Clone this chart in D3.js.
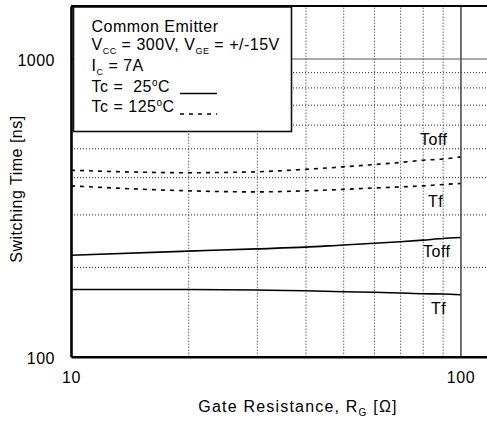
<!DOCTYPE html>
<html>
<head>
<meta charset="utf-8">
<script src="https://cdn.jsdelivr.net/npm/d3@7"></script>
<style>
  html, body { margin: 0; padding: 0; background: #fff; }
  svg { display: block; font-family: "Liberation Sans", Arial, sans-serif; }
  text { fill: #000; }
</style>
</head>
<body>
<svg id="chart" width="487" height="421"></svg>
<script>
// ---- data ----
const rg = [10, 20, 30, 40, 50, 60, 70, 80, 90, 100];
const toff25 = [219, 226, 230, 233, 237, 240, 243, 246, 249, 251];
const tf25 = [168, 168, 167.3, 166.4, 165.1, 164.4, 163.5, 162.6, 162.3, 161.4];
const toff125 = [422, 414, 417, 425, 433, 441, 448, 456, 460, 468];
const tf125 = [374, 360, 357, 360, 364, 368, 371, 374, 378, 381];
const xTickLabels = [10, 100];
const yTickLabels = [100, 1000];
const xMinor = [20, 30, 40, 50, 60, 70, 80, 90];
const yMinor = [200, 300, 400, 500, 600, 700, 800, 900];
const curveLabels = [
  { text: "Toff", x: 420, y: 145 },
  { text: "Tf", x: 428, y: 207 },
  { text: "Toff", x: 423, y: 257 },
  { text: "Tf", x: 431, y: 314 }
];

const svg = d3.select("#chart");
const L = 71, R = 487, T = 6, B = 356.7;
const x = d3.scaleLog().domain([10, 117]).range([L, R]);
const y = d3.scaleLog().domain([100, 1500]).range([B, T]);
const FS = 16, LS = "0.5px";

// grid: dotted minor
const gx = svg.append("g").attr("transform", `translate(0,${B})`)
  .call(d3.axisBottom(x).tickValues(xMinor).tickSize(-(B - T)).tickFormat(""));
gx.select(".domain").remove();
gx.selectAll("line").attr("stroke", "#222").attr("stroke-width", 1).attr("stroke-dasharray", "1,2");

const gy = svg.append("g").attr("transform", `translate(${L},0)`)
  .call(d3.axisLeft(y).tickValues(yMinor).tickSize(-(R - L)).tickFormat(""));
gy.select(".domain").remove();
gy.selectAll("line").attr("stroke", "#222").attr("stroke-width", 1).attr("stroke-dasharray", "1,2");

// major solid grid lines
const gxM = svg.append("g").attr("transform", `translate(0,${B})`)
  .call(d3.axisBottom(x).tickValues([100]).tickSize(-(B - T)).tickFormat(""));
gxM.select(".domain").remove();
gxM.selectAll("line").attr("stroke", "#444").attr("stroke-width", 1.5);

const gyM = svg.append("g").attr("transform", `translate(${L},0)`)
  .call(d3.axisLeft(y).tickValues([1000]).tickSize(-(R - L)).tickFormat(""));
gyM.select(".domain").remove();
gyM.selectAll("line").attr("stroke", "#555").attr("stroke-width", 1);

// curves
const line = d3.line().x(d => x(d[0])).y(d => y(d[1])).curve(d3.curveMonotoneX);
function draw(vals, dashed) {
  svg.append("path")
    .datum(rg.map((r, i) => [r, vals[i]]))
    .attr("d", line)
    .attr("fill", "none")
    .attr("stroke", "#000")
    .attr("stroke-width", 1.6)
    .attr("stroke-dasharray", dashed ? "4,5" : null);
}
draw(toff25, false);
draw(tf25, false);
draw(toff125, true);
draw(tf125, true);

// curve labels
svg.selectAll("text.cl").data(curveLabels).enter().append("text")
  .attr("class", "cl")
  .attr("x", d => d.x).attr("y", d => d.y)
  .attr("font-size", FS).style("letter-spacing", LS)
  .text(d => d.text);

// legend box
svg.append("rect").attr("x", 73.5).attr("y", 7).attr("width", 218).attr("height", 124.5)
  .attr("fill", "#fff").attr("stroke", "#111").attr("stroke-width", 1.6);

const lg = svg.append("g").attr("font-size", FS).style("letter-spacing", LS);
lg.append("text").attr("x", 91.5).attr("y", 31.5).text("Common Emitter");
const t2 = lg.append("text").attr("x", 91.5).attr("y", 50);
t2.append("tspan").text("V");
t2.append("tspan").attr("font-size", 9).attr("dy", 4).text("CC");
t2.append("tspan").attr("dy", -4).style("white-space", "pre").text(" = 300V, V");
t2.append("tspan").attr("font-size", 9).attr("dy", 4).text("GE");
t2.append("tspan").attr("dy", -4).style("white-space", "pre").text(" = +/-15V");
const t3 = lg.append("text").attr("x", 91.5).attr("y", 70.5);
t3.append("tspan").text("I");
t3.append("tspan").attr("font-size", 9).attr("dy", 4).text("C");
t3.append("tspan").attr("dy", -4).style("white-space", "pre").text(" = 7A");
const t4 = lg.append("text").attr("x", 91.5).attr("y", 91.5).style("white-space", "pre");
t4.append("tspan").text("Tc =  25");
t4.append("tspan").attr("font-size", 10).attr("dy", -6).text("o");
t4.append("tspan").attr("dy", 6).text("C");
const t5 = lg.append("text").attr("x", 91.5).attr("y", 112).style("white-space", "pre");
t5.append("tspan").text("Tc = 125");
t5.append("tspan").attr("font-size", 10).attr("dy", -6).text("o");
t5.append("tspan").attr("dy", 6).text("C");
svg.append("line").attr("x1", 180).attr("x2", 217).attr("y1", 93.5).attr("y2", 93.5)
  .attr("stroke", "#000").attr("stroke-width", 1.6);
svg.append("line").attr("x1", 180).attr("x2", 217).attr("y1", 114).attr("y2", 114)
  .attr("stroke", "#000").attr("stroke-width", 1.6).attr("stroke-dasharray", "4,5");

// frame
svg.append("line").attr("x1", L).attr("x2", R).attr("y1", T).attr("y2", T)
  .attr("stroke", "#000").attr("stroke-width", 2.2);

// axes with labels
const ax = svg.append("g").attr("transform", `translate(0,${B})`)
  .call(d3.axisBottom(x).tickValues(xTickLabels).tickSize(0).tickPadding(15).tickFormat(d3.format("d")));
ax.select(".domain").attr("stroke", "#000").attr("stroke-width", 2.6);
ax.selectAll("text").attr("font-size", FS).attr("font-family", null).style("letter-spacing", LS).attr("fill", "#000");

const ay = svg.append("g").attr("transform", `translate(${L},0)`)
  .call(d3.axisLeft(y).tickValues(yTickLabels).tickSize(0).tickPadding(16).tickFormat(d3.format("d")));
ay.select(".domain").attr("stroke", "#000").attr("stroke-width", 2.6);
ay.selectAll("text").attr("font-size", FS).attr("font-family", null).attr("dy", "0.45em")
  .style("letter-spacing", LS).attr("fill", "#000");

// axis titles
const xt = svg.append("text").attr("x", 298).attr("y", 411.5).attr("text-anchor", "middle")
  .attr("font-size", FS).style("letter-spacing", "1.2px").style("white-space", "pre");
xt.append("tspan").text("Gate Resistance, R");
xt.append("tspan").attr("font-size", 10).attr("dy", 4).text("G");
xt.append("tspan").attr("dy", -4).text(" [Ω]");

svg.append("text").attr("transform", "translate(22,189) rotate(-90)")
  .attr("text-anchor", "middle").attr("font-size", FS).style("letter-spacing", LS)
  .text("Switching Time [ns]");
</script>
</body>
</html>
